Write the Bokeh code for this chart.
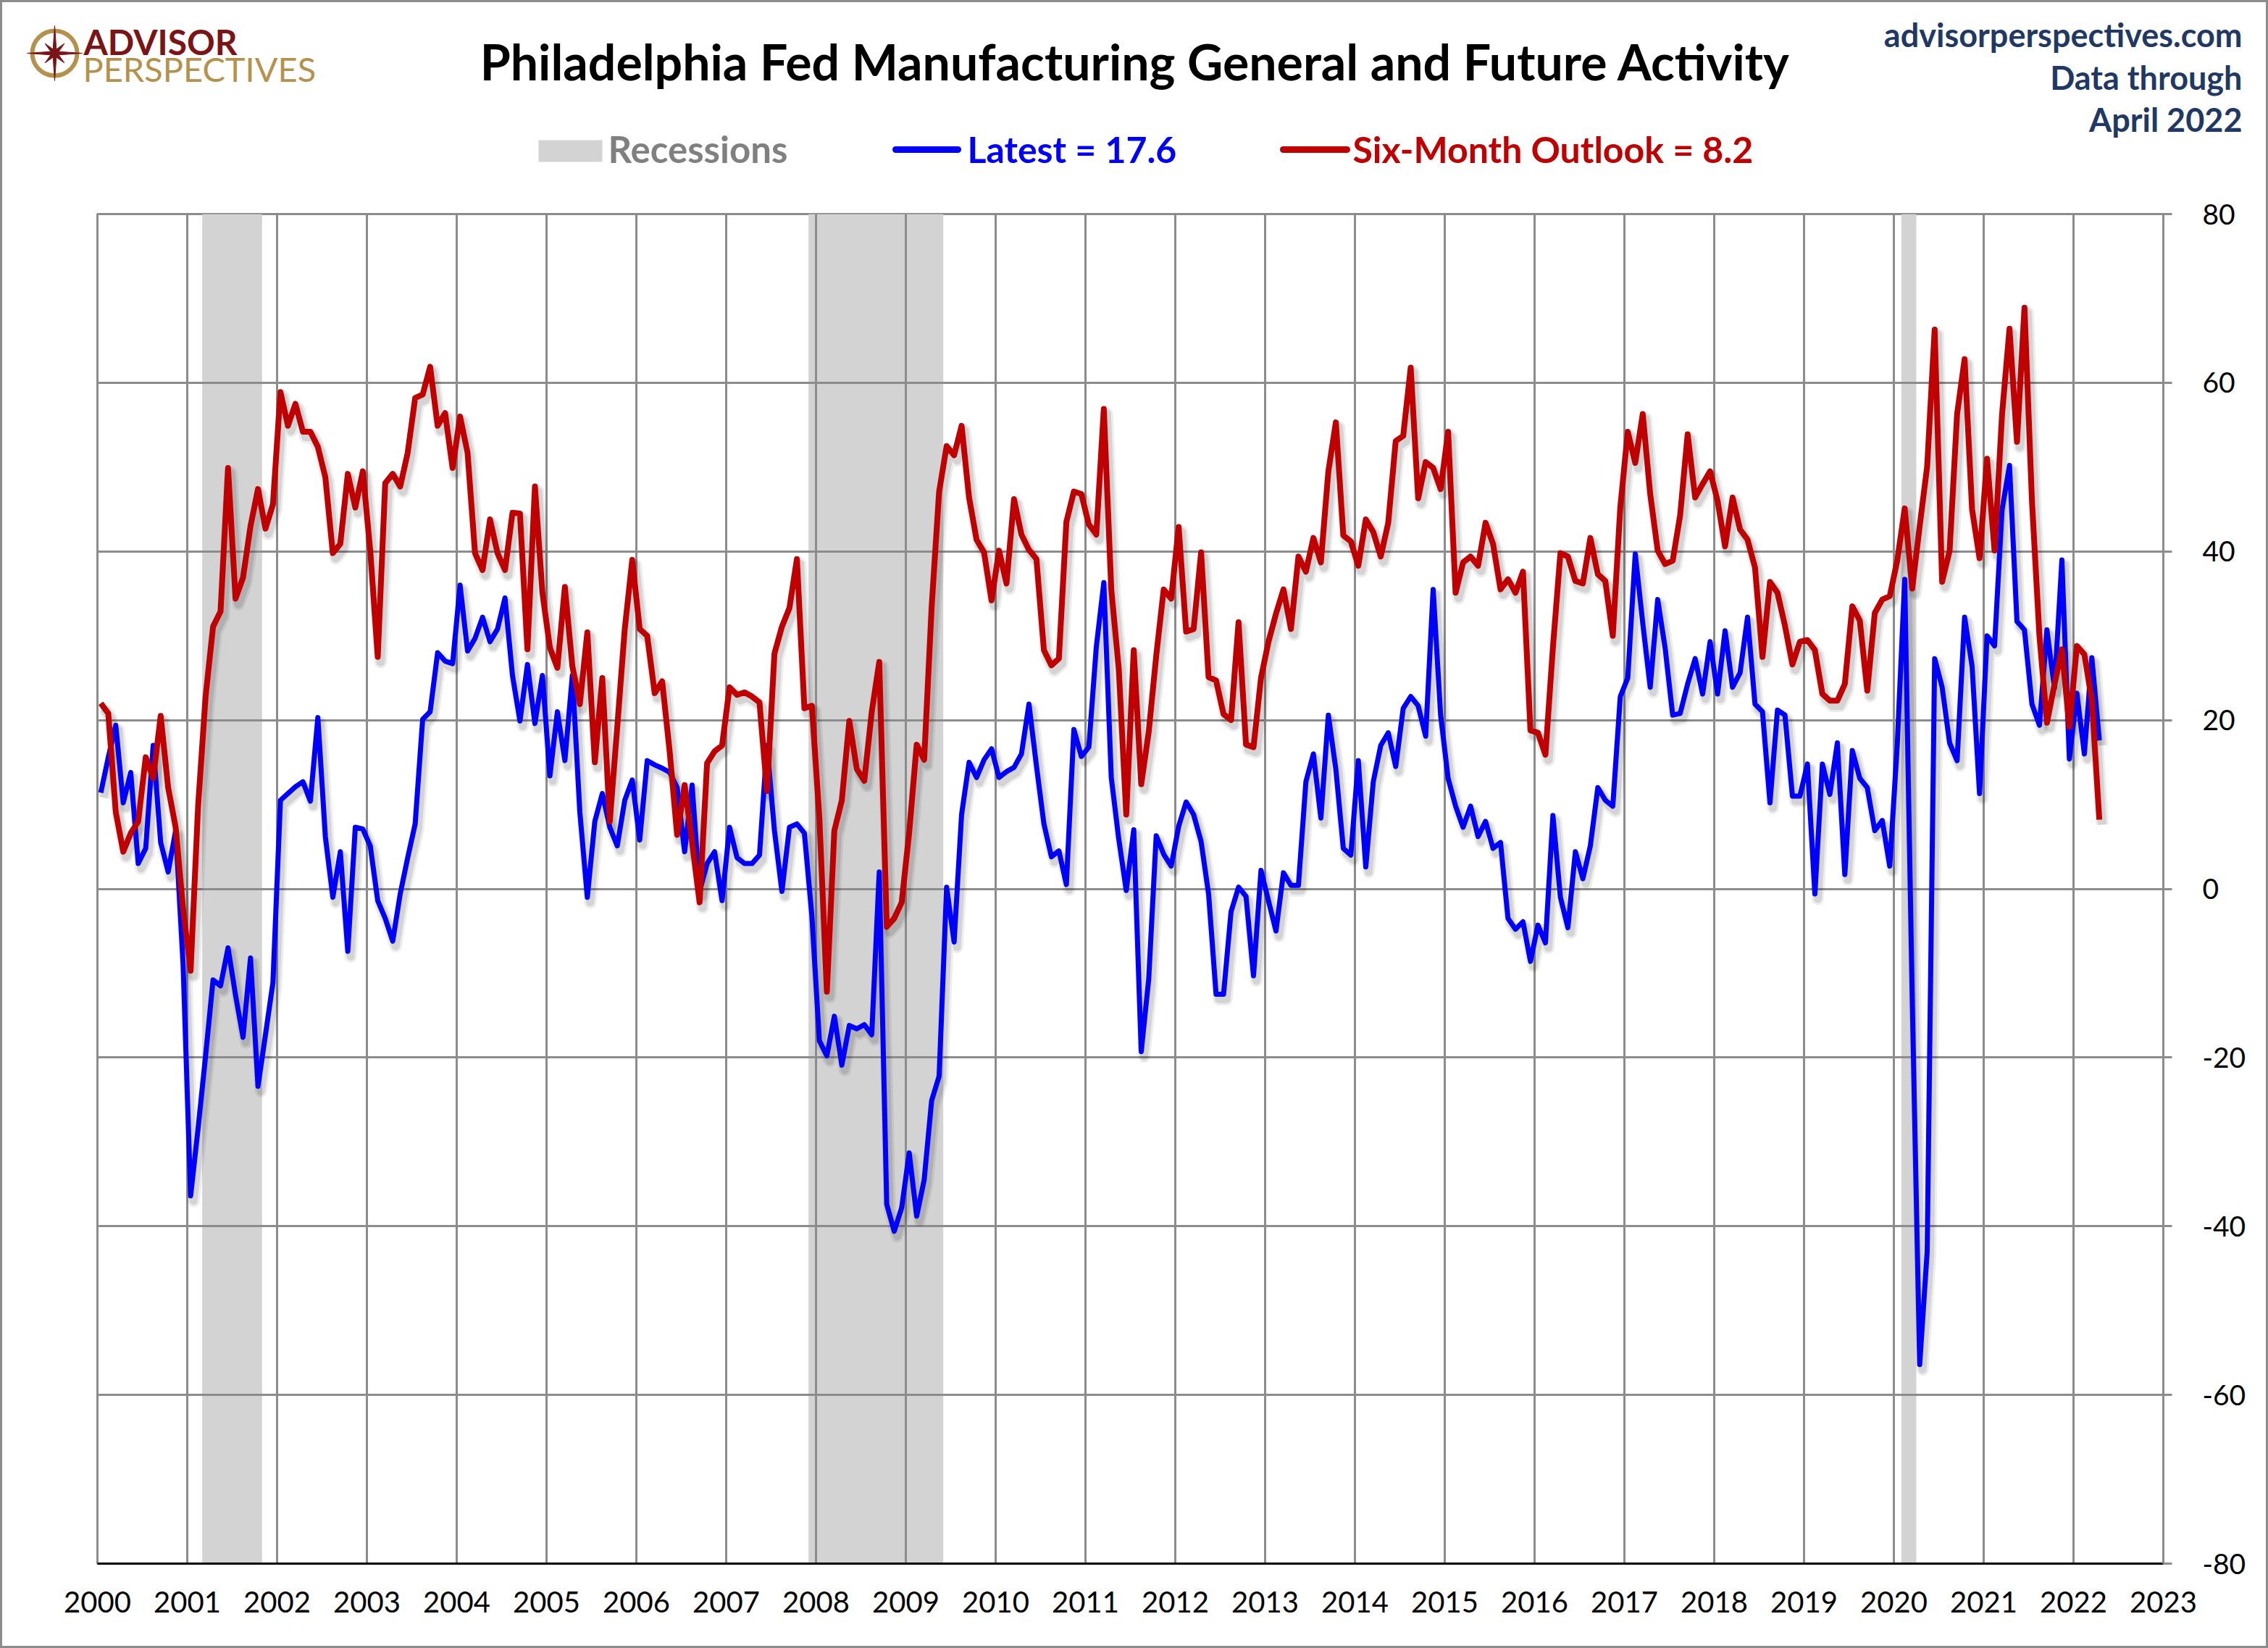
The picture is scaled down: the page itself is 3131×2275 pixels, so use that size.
import math
from bokeh.plotting import figure
from bokeh.layouts import column
from bokeh.models import Range1d, FixedTicker
from bokeh.core.properties import value
from bokeh.embed import file_html
from bokeh.resources import INLINE

# ---------------- data ----------------
general_activity = [
    11.4, 15.6, 19.4, 10.2, 13.8, 3.0, 4.8, 17.0, 5.5, 2.0, 6.9, -9.0,            # 2000
    -36.4, -28.4, -19.8, -10.8, -11.5, -7.0, -12.6, -17.6, -8.2, -23.4, -17.3, -11.1,  # 2001
    10.5, 11.3, 12.1, 12.7, 10.4, 20.3, 6.2, -1.0, 4.4, -7.4, 7.3, 7.1,           # 2002
    5.1, -1.4, -3.5, -6.2, -0.6, 3.7, 7.7, 20.1, 21.0, 28.0, 27.0, 26.7,          # 2003
    36.0, 28.2, 29.7, 32.2, 29.3, 30.8, 34.5, 25.3, 19.9, 26.6, 19.6, 25.3,       # 2004
    13.4, 21.0, 15.2, 25.3, 9.1, -1.0, 8.0, 11.3, 7.3, 5.1, 10.5, 12.9,           # 2005
    5.8, 15.2, 14.7, 14.3, 13.8, 12.0, 4.4, 12.3, -0.3, 3.0, 4.4, -1.4,           # 2006
    7.3, 3.7, 3.0, 3.0, 4.0, 17.0, 6.9, -0.3, 7.3, 7.7, 6.6, -3.2,                # 2007
    -18.0, -19.8, -15.1, -20.9, -16.2, -16.6, -16.1, -17.3, 2.0, -37.4, -40.6, -37.8,  # 2008
    -31.3, -38.8, -34.5, -25.1, -22.2, 0.2, -6.3, 8.8, 15.0, 13.2, 15.3, 16.6,    # 2009
    13.2, 13.9, 14.4, 16.0, 21.9, 14.6, 7.7, 3.8, 4.5, 0.5, 18.9, 15.7,           # 2010
    16.8, 28.7, 36.3, 13.2, 5.9, -0.2, 7.0, -19.3, -10.7, 6.3, 4.1, 2.7,          # 2011
    7.4, 10.3, 8.8, 5.6, -0.6, -12.5, -12.5, -2.7, 0.2, -0.9, -10.3, 2.2,         # 2012
    -1.4, -5.0, 1.9, 0.4, 0.4, 12.7, 16.0, 8.4, 20.6, 14.2, 4.8, 4.0,             # 2013
    15.2, 2.6, 12.7, 17.0, 18.5, 14.5, 21.4, 22.8, 21.7, 18.1, 35.5, 20.6,        # 2014
    13.1, 9.8, 7.3, 9.8, 6.2, 8.0, 4.8, 5.5, -3.5, -4.8, -3.9, -8.6,              # 2015
    -4.3, -6.4, 8.7, -1.0, -4.6, 4.4, 1.2, 5.1, 12.0, 10.5, 9.8, 22.8,            # 2016
    25.0, 39.7, 31.5, 23.9, 34.3, 28.5, 20.6, 20.8, 24.3, 27.3, 23.1, 29.3,       # 2017
    23.1, 30.6, 23.9, 25.6, 32.2, 21.9, 21.0, 10.2, 21.2, 20.6, 11.0, 11.0,       # 2018
    14.8, -0.6, 14.8, 11.2, 17.3, 1.7, 16.4, 13.1, 12.0, 6.9, 8.1, 2.7,           # 2019
    17.0, 36.7, -12.7, -56.4, -43.0, 27.3, 23.9, 17.3, 15.2, 32.2, 26.4, 11.3,    # 2020
    30.0, 28.8, 44.9, 50.2, 31.7, 30.7, 21.9, 19.4, 30.7, 23.8, 39.0, 15.4,       # 2021
    23.2, 16.0, 27.4, 17.6,                                                       # 2022
]

six_month_outlook = [
    22.0, 20.8, 9.1, 4.4, 6.6, 8.0, 15.6, 13.1, 20.5, 12.0, 7.3, -2.5,            # 2000
    -9.7, 9.8, 22.8, 31.1, 32.9, 49.9, 34.4, 36.9, 43.0, 47.4, 42.7, 45.6,        # 2001
    58.9, 54.9, 57.5, 54.2, 54.2, 52.4, 48.8, 39.8, 40.9, 49.2, 45.2, 49.5,       # 2002
    40.1, 27.5, 48.1, 49.2, 47.7, 51.7, 58.2, 58.6, 61.9, 54.9, 56.4, 49.9,       # 2003
    56.0, 51.7, 39.8, 37.8, 43.8, 39.8, 37.8, 44.6, 44.5, 28.4, 47.7, 35.1,       # 2004
    28.6, 26.2, 35.8, 26.4, 21.9, 30.4, 15.0, 25.0, 8.0, 19.2, 30.8, 39.0,        # 2005
    30.8, 30.0, 23.2, 24.6, 16.3, 6.4, 12.3, 5.5, -1.6, 14.9, 16.3, 17.0,         # 2006
    23.9, 23.0, 23.3, 22.8, 22.1, 11.6, 27.9, 31.1, 33.3, 39.1, 21.4, 21.7,       # 2007
    8.4, -12.2, 6.9, 10.5, 19.9, 14.2, 12.8, 21.0, 26.9, -4.5, -3.5, -1.6,        # 2008
    6.7, 17.1, 15.3, 33.4, 47.1, 52.5, 51.4, 54.9, 46.4, 41.4, 39.9, 34.2,        # 2009
    40.1, 36.2, 46.2, 42.0, 40.2, 39.1, 28.3, 26.5, 27.3, 43.5, 47.1, 46.8,       # 2010
    43.2, 42.0, 56.9, 35.5, 26.1, 8.8, 28.3, 12.4, 18.6, 27.6, 35.5, 34.4,        # 2011
    42.9, 30.5, 30.8, 39.9, 25.1, 24.7, 20.7, 20.0, 31.6, 17.1, 16.8, 25.0,       # 2012
    29.3, 32.6, 35.5, 30.8, 39.4, 37.6, 41.6, 38.7, 49.5, 55.3, 41.9, 41.2,       # 2013
    38.3, 43.8, 42.3, 39.4, 43.4, 53.1, 53.7, 61.8, 46.3, 50.6, 49.9, 47.4,       # 2014
    54.2, 35.1, 38.7, 39.4, 38.3, 43.4, 40.9, 35.5, 36.7, 35.1, 37.6, 18.8,       # 2015
    18.5, 15.9, 28.6, 39.8, 39.4, 36.5, 36.2, 41.6, 37.3, 36.5, 30.0, 45.2,       # 2016
    54.2, 50.5, 56.3, 46.8, 40.1, 38.5, 38.9, 44.3, 53.9, 46.4, 48.0, 49.5,       # 2017
    46.0, 40.6, 46.4, 42.6, 41.4, 38.1, 27.5, 36.4, 35.1, 31.2, 26.6, 29.3,       # 2018
    29.5, 28.3, 23.1, 22.3, 22.3, 24.3, 33.5, 31.8, 23.5, 32.7, 34.3, 34.7,       # 2019
    38.9, 45.1, 35.6, 43.0, 50.1, 66.3, 36.4, 40.1, 56.3, 62.8, 45.0, 39.2,       # 2020
    51.0, 40.1, 56.2, 66.4, 53.0, 68.9, 46.0, 30.0, 19.7, 24.2, 28.4, 19.2,       # 2021
    28.8, 27.8, 22.4, 8.2,                                                        # 2022
]

recession_start = [2001 + 2 / 12, 2007 + 11 / 12, 2020 + 1 / 12]
recession_end = [2001 + 10 / 12, 2009 + 5 / 12, 2020 + 3 / 12]

year_ticks = list(range(2000, 2024))
value_ticks = list(range(-80, 81, 20))

title_text = "Philadelphia Fed Manufacturing General and Future Activity"
source_lines = ["advisorperspectives.com", "Data through", "April 2022"]
legend_labels = ["Recessions", "Latest = 17.6", "Six-Month Outlook = 8.2"]

start_year = 2000
# monthly observations, plotted mid-month
x_dates = [start_year + (i + 0.45) / 12 for i in range(len(general_activity))]

# ---------------- layout constants ----------------
W, H = 3131, 2275
HDR_H = 260
FRAME_L, FRAME_R, FRAME_T, FRAME_B = 134, 2986, 295, 2158
GRID = "#8C8C8C"
FONT = "Lato"
NAVY = "#1F3864"
GOLD = "#B5924C"
DARKRED = "#7B1416"
BLUE = "#0000FF"
RED = "#C00000"
REC = "#D3D3D3"

# ================= header (title, legend, logo) =================
hdr = figure(width=W, height=HDR_H, output_backend="svg", toolbar_location=None,
             y_range=Range1d(HDR_H, 0),
             x_axis_location=None, y_axis_location=None,
             min_border=0, min_border_left=0, min_border_right=0,
             min_border_top=0, min_border_bottom=0,
             outline_line_color=None, background_fill_alpha=0, border_fill_alpha=0)
hdr.grid.visible = False

MAIN_H = H - HDR_H
p = figure(width=W, height=MAIN_H, output_backend="svg", toolbar_location=None,
           x_range=Range1d(2000, 2023), y_range=Range1d(-80, 80),
           y_axis_location="right",
           min_border_left=FRAME_L, min_border_right=W - FRAME_R,
           min_border_top=FRAME_T - HDR_H, min_border_bottom=H - FRAME_B,
           background_fill_color="white", border_fill_alpha=0)

if "frame_align" in hdr.properties():
    hdr.frame_align = False
    p.frame_align = False
    hdr.x_range = Range1d(0, W)
else:
    # header frame would be aligned with the chart frame
    hdr.x_range = Range1d(FRAME_L, FRAME_R)


def htext(x, y, s, size, color, style="bold", align="left"):
    # Bokeh's alphabetic baseline sits a little low; lift by ~1/3 em
    hdr.text(x=[x], y=[y - 0.33 * size], text=[s], text_font=value(FONT),
             text_font_size=value(f"{size}px"), text_font_style=value(style),
             text_color=color, text_align=value(align),
             text_baseline=value("alphabetic"))


htext(1567, 106, title_text, 68, "black", align="center")
for s, yb in zip(source_lines, (62, 121, 179)):
    htext(3095, yb, s, 45, NAVY, align="right")

# legend
hdr.quad(left=[743], right=[831], top=[193], bottom=[223], fill_color=REC, line_color=None)
htext(839, 222, legend_labels[0], 51, "#808080")
hdr.line([1236, 1322], [206, 206], line_color=BLUE, line_width=9, line_cap="round")
htext(1335, 222, legend_labels[1], 50, BLUE)
hdr.line([1771, 1859], [206, 206], line_color=RED, line_width=9, line_cap="round")
htext(1867, 222, legend_labels[2], 50, RED)

# logo
cx, cy = 75, 73
hdr.annulus(x=[cx], y=[cy], inner_radius=28, outer_radius=34, fill_color=GOLD, line_color=None)
star_x, star_y = [], []
for k in range(16):
    ang = math.pi / 2 - k * math.pi / 8
    if k % 2 == 0:
        r = 38 if (k // 2) % 2 == 0 else 19
    else:
        r = 6
    star_x.append(cx + r * math.cos(ang))
    star_y.append(cy - r * math.sin(ang))
hdr.patch(star_x, star_y, fill_color=DARKRED, line_color=DARKRED, line_width=1)
htext(115, 73, "ADVISOR", 48, DARKRED, style="bold")
htext(114, 110, "PERSPECTIVES", 47, GOLD, style="normal")

# ================= main chart =================
p.outline_line_color = GRID
p.outline_line_width = 3

p.xgrid.ticker = FixedTicker(ticks=year_ticks)
p.ygrid.ticker = FixedTicker(ticks=value_ticks)
for g in (p.xgrid, p.ygrid):
    g.grid_line_color = GRID
    g.grid_line_width = 3

xa = p.xaxis[0]
xa.ticker = FixedTicker(ticks=year_ticks)
xa.axis_line_color = "black"
xa.axis_line_width = 3
xa.major_tick_in = 0
xa.major_tick_out = 0
xa.minor_tick_line_color = None
xa.major_label_standoff = 38
xa.major_label_text_font = FONT
xa.major_label_text_font_size = "40px"
xa.major_label_text_color = "black"

ya = p.yaxis[0]
ya.ticker = FixedTicker(ticks=value_ticks)
ya.major_label_overrides = {v: str(v) for v in value_ticks}
ya.axis_line_color = GRID
ya.axis_line_width = 3
ya.major_tick_in = 0
ya.major_tick_out = 12
ya.major_tick_line_color = GRID
ya.major_tick_line_width = 3
ya.minor_tick_line_color = None
ya.major_label_standoff = 42
ya.major_label_text_font = FONT
ya.major_label_text_font_size = "39px"
ya.major_label_text_color = "black"

# recession shading (below the grid)
p.quad(left=recession_start, right=recession_end, top=80, bottom=-80,
       fill_color=REC, line_color=None, level="image")

# soft drop shadows
PX_PER_YEAR = (FRAME_R - FRAME_L) / 23.0
PX_PER_UNIT = (FRAME_B - FRAME_T) / 160.0
sdx = 4 / PX_PER_YEAR
sdy = -7 / PX_PER_UNIT
for series, w in ((general_activity, 7), (six_month_outlook, 8)):
    xs = [v + sdx for v in x_dates]
    ys = [v + sdy for v in series]
    p.line(xs, ys, line_color="black", line_alpha=0.07, line_width=w + 10, line_join="round")
    p.line(xs, ys, line_color="black", line_alpha=0.10, line_width=w + 4, line_join="round")

p.line(x_dates, general_activity, line_color=BLUE, line_width=7, line_join="round")
p.line(x_dates, six_month_outlook, line_color=RED, line_width=8, line_join="round")

layout = column(hdr, p, spacing=0,
                styles={"box-shadow": f"inset 0 0 0 3px {GRID}", "background-color": "white"})

open("out.html", "w").write(file_html(layout, INLINE))
